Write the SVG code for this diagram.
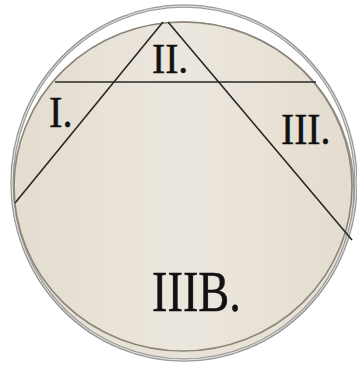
<svg xmlns="http://www.w3.org/2000/svg" width="357" height="372" viewBox="0 0 357 372">
<defs>
<linearGradient id="bg" x1="0" y1="0" x2="1" y2="0">
<stop offset="0" stop-color="#e3dccf"/>
<stop offset="0.5" stop-color="#ece7de"/>
<stop offset="1" stop-color="#e3dccf"/>
</linearGradient>
</defs>
<style>
.lbl{font-family:"Liberation Serif","Times New Roman",serif;fill:#111;stroke:#111;stroke-width:0.5}
.ln{stroke:#2a2723;stroke-width:1.6;fill:none}
</style>
<rect width="357" height="372" fill="#ffffff"/>
<g id="dish">
<ellipse cx="184" cy="191" rx="170" ry="169" fill="#e7e1d6" stroke="#9c978c" stroke-width="1.5"/>
<ellipse cx="184" cy="183" rx="172" ry="177" fill="none" stroke="#9a9a9a" stroke-width="3.5"/>
<ellipse cx="184" cy="183" rx="172" ry="177" fill="none" stroke="#e8e8e8" stroke-width="1"/>
<ellipse cx="183" cy="186.5" rx="169" ry="164.5" fill="url(#bg)" stroke="#8a8577" stroke-width="1.6"/>
</g>
<g id="connectors">
<line class="ln" x1="55" y1="82" x2="316" y2="82"/>
<line class="ln" x1="163" y1="22" x2="15" y2="203"/>
<line class="ln" x1="168" y1="22" x2="352" y2="240"/>
</g>
<g id="region-I"><text class="lbl" transform="translate(49,127) scale(0.92,1)" font-size="44">I.</text></g>
<g id="region-II"><text class="lbl" transform="translate(152,73) scale(0.92,1)" font-size="43">II.</text></g>
<g id="region-III"><text class="lbl" transform="translate(281,144) scale(0.9,1)" font-size="44">III.</text></g>
<g id="region-IIIB"><text class="lbl" transform="translate(152,311) scale(0.8,1)" font-size="58">IIIB.</text></g>
</svg>
